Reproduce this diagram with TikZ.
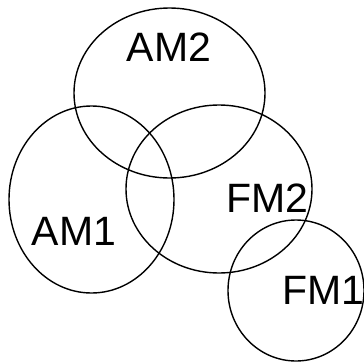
\documentclass[tikz,border=0pt]{standalone}
\usepackage{fontspec}
\setmainfont{Liberation Sans}
\tikzset{lbl/.style={font=\fontsize{41}{41}\selectfont, inner sep=0pt}}
\begin{document}
\begin{tikzpicture}[x=1pt,y=-1pt,line width=1.4pt]
\useasboundingbox (0,0) rectangle (364,362);
\draw (169.5,93) ellipse (95.5 and 85);
\draw (91.5,199.5) ellipse (82.5 and 93.5);
\draw (219,189) ellipse (93 and 84);
\draw (296,290.5) ellipse (68 and 70.5);
\node[lbl] (am2) at (169,47) {AM2};
\node[lbl] (am1) at (74,231) {AM1};
\node[lbl] (fm2) at (267,198) {FM2};
\node[lbl] (fm1) at (323,290) {FM1};
\end{tikzpicture}
\end{document}
